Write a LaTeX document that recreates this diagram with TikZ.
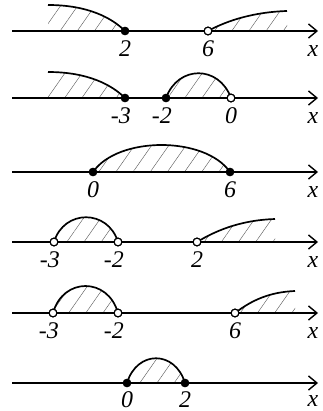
\documentclass[tikz,border=0pt]{standalone}
\usepackage{fontspec}
\setmainfont{Liberation Serif}
\usetikzlibrary{patterns.meta, arrows.meta, positioning}

\begin{document}
\begin{tikzpicture}[
    x=0.025cm, y=-0.025cm,
    axis/.style={line width=0.9pt, -{Straight Barb[length=6pt,width=10pt,line width=1pt]}},
    bound/.style={line width=1.2pt},
    hatch/.style={pattern={Lines[angle=55,distance=10pt,line width=0.3pt]}, pattern color=black!65},
    full/.style={circle, fill, inner sep=0pt, minimum size=6pt},
    hollow/.style={circle, draw, fill=white, line width=0.8pt, inner sep=0pt, minimum size=5.5pt},
    num/.style={font=\fontsize{17}{17}\selectfont\itshape, inner sep=0pt}
]
\useasboundingbox (0,0) rectangle (322,411);

% x <= 2 or x > 6
\coordinate (s1) at (12,31);
\coordinate (e1) at (318,31);
\node[full] (a1) at (125,31) {};
\node[hollow] (b1) at (208,31) {};
\fill[hatch] (48,31) -- (48,5) .. controls (88,5) and (112,18) .. (a1.center) -- cycle;
\fill[hatch] (b1.center) .. controls (228,20) and (255,12) .. (287,11) -- (287,31) -- cycle;
\draw[bound] (48,5) .. controls (88,5) and (112,18) .. (a1.center);
\draw[bound] (b1.center) .. controls (228,20) and (255,12) .. (287,11);
\draw[axis] (s1) -- (e1);
\node[full] at (a1) {};
\node[hollow] at (b1) {};
\node[num, below=0.13cm of a1] {2};
\node[num, below=0.13cm of b1] {6};
\node[num] (x1) at (313,51) {x};

% x <= -3 or -2 <= x < 0
\coordinate (s2) at (12,98);
\coordinate (e2) at (318,98);
\node[full] (a2) at (125,98) {};
\node[full] (b2) at (166,98) {};
\node[hollow] (c2) at (231,98) {};
\fill[hatch] (48,98) -- (48,72) .. controls (88,72) and (112,85) .. (a2.center) -- cycle;
\fill[hatch] (b2.center) .. controls (178,65) and (219,65) .. (c2.center) -- cycle;
\draw[bound] (48,72) .. controls (88,72) and (112,85) .. (a2.center);
\draw[bound] (b2.center) .. controls (178,65) and (219,65) .. (c2.center);
\draw[axis] (s2) -- (e2);
\node[full] at (a2) {};
\node[full] at (b2) {};
\node[hollow] at (c2) {};
\node[num, below=0.13cm of a2, xshift=-3pt] {-3};
\node[num, below=0.13cm of b2, xshift=-3pt] {-2};
\node[num, below=0.13cm of c2] {0};
\node[num] (x2) at (313,118) {x};

% 0 <= x <= 6
\coordinate (s3) at (12,172);
\coordinate (e3) at (318,172);
\node[full] (a3) at (93,172) {};
\node[full] (b3) at (230,172) {};
\fill[hatch] (a3.center) .. controls (118,136) and (205,136) .. (b3.center) -- cycle;
\draw[bound] (a3.center) .. controls (118,136) and (205,136) .. (b3.center);
\draw[axis] (s3) -- (e3);
\node[full] at (a3) {};
\node[full] at (b3) {};
\node[num, below=0.13cm of a3] {0};
\node[num, below=0.13cm of b3] {6};
\node[num] (x3) at (313,192) {x};

% -3 < x < -2 or x > 2
\coordinate (s4) at (12,242);
\coordinate (e4) at (318,242);
\node[hollow] (a4) at (54,242) {};
\node[hollow] (b4) at (118,242) {};
\node[hollow] (c4) at (197,242) {};
\fill[hatch] (a4.center) .. controls (64,209) and (108,209) .. (b4.center) -- cycle;
\fill[hatch] (c4.center) .. controls (220,228) and (245,220) .. (275,219) -- (275,242) -- cycle;
\draw[bound] (a4.center) .. controls (64,209) and (108,209) .. (b4.center);
\draw[bound] (c4.center) .. controls (220,228) and (245,220) .. (275,219);
\draw[axis] (s4) -- (e4);
\node[hollow] at (a4) {};
\node[hollow] at (b4) {};
\node[hollow] at (c4) {};
\node[num, below=0.13cm of a4, xshift=-3pt] {-3};
\node[num, below=0.13cm of b4, xshift=-3pt] {-2};
\node[num, below=0.13cm of c4] {2};
\node[num] (x4) at (313,262) {x};

% -3 < x < -2 or x > 6
\coordinate (s5) at (12,313);
\coordinate (e5) at (318,313);
\node[hollow] (a5) at (53,313) {};
\node[hollow] (b5) at (118,313) {};
\node[hollow] (c5) at (235,313) {};
\fill[hatch] (a5.center) .. controls (63,277) and (108,277) .. (b5.center) -- cycle;
\fill[hatch] (c5.center) .. controls (252,300) and (270,292) .. (295,291) -- (295,313) -- cycle;
\draw[bound] (a5.center) .. controls (63,277) and (108,277) .. (b5.center);
\draw[bound] (c5.center) .. controls (252,300) and (270,292) .. (295,291);
\draw[axis] (s5) -- (e5);
\node[hollow] at (a5) {};
\node[hollow] at (b5) {};
\node[hollow] at (c5) {};
\node[num, below=0.13cm of a5, xshift=-3pt] {-3};
\node[num, below=0.13cm of b5, xshift=-3pt] {-2};
\node[num, below=0.13cm of c5] {6};
\node[num] (x5) at (313,333) {x};

% 0 <= x <= 2
\coordinate (s6) at (12,383);
\coordinate (e6) at (318,383);
\node[full] (a6) at (127,383) {};
\node[full] (b6) at (185,383) {};
\fill[hatch] (a6.center) .. controls (137,350) and (175,350) .. (b6.center) -- cycle;
\draw[bound] (a6.center) .. controls (137,350) and (175,350) .. (b6.center);
\draw[axis] (s6) -- (e6);
\node[full] at (a6) {};
\node[full] at (b6) {};
\node[num, below=0.1cm of a6] {0};
\node[num, below=0.1cm of b6] {2};
\node[num] (x6) at (313,401) {x};
\end{tikzpicture}
\end{document}
